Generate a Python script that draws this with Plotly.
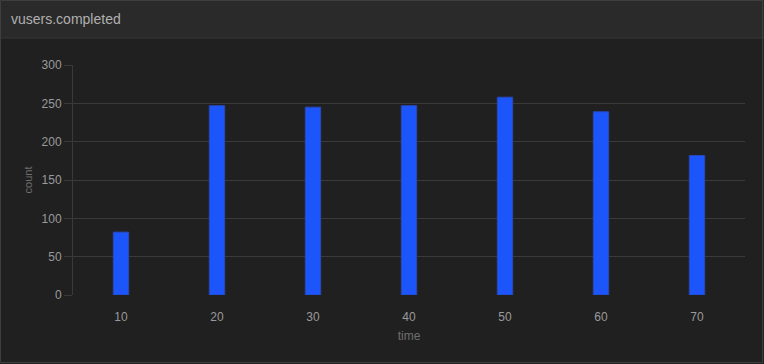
import plotly.graph_objects as go

time = [10, 20, 30, 40, 50, 60, 70]
count = [82, 247, 245, 247, 258, 239, 182]
y_ticks = [0, 50, 100, 150, 200, 250, 300]

W, H = 764, 364
L, R, T, B = 73, 19, 65, 69
pw, ph = W - L - R, H - T - B

def px_x(p):
    return (p - L) / pw

def px_y(p):
    return 1 - (p - T) / ph

fig = go.Figure(go.Bar(
    x=time, y=count, width=1.6,
    marker=dict(color="#1c56fb", line=dict(color="#2a48b8", width=1)),
))

shapes = [
    dict(type="rect", xref="paper", yref="paper",
         x0=px_x(0), x1=px_x(W), y0=px_y(0), y1=px_y(38),
         fillcolor="#2a2a2a", line=dict(width=0), layer="below"),
    dict(type="line", xref="paper", yref="paper",
         x0=px_x(0), x1=px_x(W), y0=px_y(38), y1=px_y(38),
         line=dict(color="#363636", width=1)),
    dict(type="rect", xref="paper", yref="paper",
         x0=px_x(0.5), x1=px_x(W - 1.5), y0=px_y(0.5), y1=px_y(H - 1.5),
         line=dict(color="#3e3e3e", width=1), fillcolor="rgba(0,0,0,0)"),
]

fig.update_layout(
    width=W, height=H,
    margin=dict(l=L, r=R, t=T, b=B),
    paper_bgcolor="#202020", plot_bgcolor="#202020",
    showlegend=False,
    font=dict(family="Liberation Sans, Arial, sans-serif", color="#9a9a9a"),
    shapes=shapes,
    annotations=[dict(text="vusers.completed", xref="paper", yref="paper",
                      x=px_x(9), y=px_y(19), xanchor="left", yanchor="middle",
                      showarrow=False, font=dict(size=14, color="#b0b0b0"))],
    xaxis=dict(range=[5, 75], tickvals=time, showgrid=False, zeroline=False,
               showline=False, ticks="outside", ticklen=11, tickcolor="rgba(0,0,0,0)",
               tickfont=dict(size=12, color="#9a9a9a"),
               title=dict(text="time", font=dict(size=12, color="#6f6f6f"), standoff=8)),
    yaxis=dict(range=[0, 300], tickvals=y_ticks, showgrid=True, gridcolor="#3a3a3a",
               gridwidth=1, zeroline=False, showline=True, linecolor="#3a3a3a",
               ticks="outside", ticklen=8, tickcolor="#3a3a3a",
               tickfont=dict(size=12, color="#9a9a9a"),
               title=dict(text="count", font=dict(size=11, color="#6f6f6f"), standoff=6)),
)

fig.write_html("out.html", config={"displayModeBar": False},
               post_script="document.body.style.margin='0';document.body.style.background='#202020';")
